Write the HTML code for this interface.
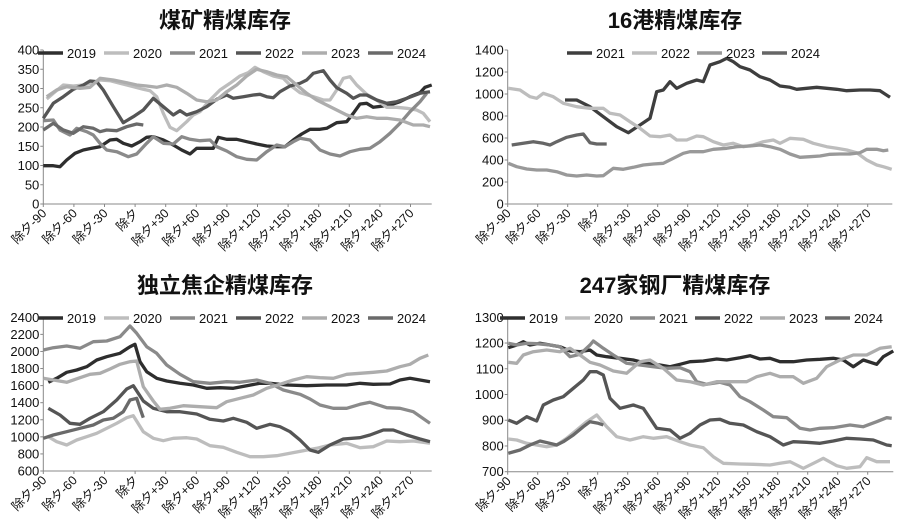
<!DOCTYPE html><html><head><meta charset="utf-8"><style>
body{margin:0;background:#fff}svg{display:block}
text{font-family:"Liberation Sans","Noto Sans CJK SC",sans-serif;fill:#111}
</style></head><body>
<svg id="s" width="900" height="531" xmlns="http://www.w3.org/2000/svg"></svg>
<script>
const C={2019:'#2e2e2e',2020:'#bdbdbd',2021:'#8a8a8a',2022:'#555',2023:'#adadad',2024:'#6a6a6a'};
const C2={2021:'#3e3e3e',2022:'#bdbdbd',2023:'#999',2024:'#666'};
const charts=[
{ox:0,oy:0,title:'煤矿精煤库存',tx:225,ax:130,ay0:612,ay1:150,yl:[0,50,100,150,200,250,300,350,400],xe:1295,legX:38,legSp:66,leg:[2019,2020,2021,2022,2023,2024],
s:{2019:[[130,497],[160,497],[180,500],[200,480],[225,460],[250,450],[275,445],[300,440],[330,420],[350,418],[370,430],[395,438],[420,425],[440,412],[460,410],[490,420],[520,435],[545,450],[570,462],[590,445],[620,445],[640,445],[655,412],[680,418],[710,418],[740,425],[770,432],[800,438],[830,440],[855,440],[880,420],[905,402],[930,388],[960,388],[980,385],[1010,368],[1040,365],[1060,340],[1080,312],[1100,310],[1120,322],[1150,318],[1180,312],[1200,305],[1230,290],[1260,278],[1275,262],[1295,255]],
2020:[[140,297],[160,280],[190,255],[220,258],[250,255],[280,248],[300,240],[330,242],[360,250],[400,260],[430,268],[450,272],[470,290],[490,340],[510,382],[530,392],[560,365],[580,345],[600,335],[630,300],[660,270],[690,250],[720,228],[745,218],[765,202],[790,215],[820,228],[850,235],[870,255],[900,278],[940,290],[970,300],[990,300],[1010,270],[1030,235],[1050,230],[1070,255],[1100,283],[1130,300],[1160,322],[1190,322],[1220,325],[1250,330],[1270,340],[1290,365]],
2021:[[130,362],[160,360],[180,390],[210,405],[230,385],[260,395],[280,405],[300,430],[320,450],[350,455],[385,470],[410,462],[440,430],[460,410],[490,430],[520,432],[545,410],[570,418],[600,422],[630,420],[650,440],[680,453],[710,470],[740,478],[770,480],[800,455],[830,435],[855,440],[880,425],[900,415],[930,420],[960,450],[990,462],[1020,468],[1050,455],[1080,448],[1110,445],[1140,425],[1170,400],[1200,370],[1230,335],[1260,305],[1280,280]],
2022:[[130,355],[160,310],[190,290],[220,268],[250,255],[270,243],[290,245],[310,270],[340,320],[370,368],[400,350],[430,330],[460,295],[490,320],[520,345],[540,332],[560,345],[590,335],[620,320],[650,298],[680,285],[700,295],[730,290],[760,285],[780,283],[800,290],[820,293],[840,275],[870,258],[900,250],[920,240],[940,220],[970,212],[990,240],[1010,263],[1040,280],[1060,295],[1080,285],[1100,285],[1130,300],[1160,310],[1190,305],[1220,295],[1260,280],[1290,275]],
2023:[[140,290],[170,270],[200,260],[240,265],[270,262],[300,235],[340,240],[380,248],[410,255],[440,258],[470,262],[500,255],[530,262],[560,280],[590,300],[620,305],[650,300],[680,275],[710,255],[740,228],[770,208],[800,215],[830,225],[860,230],[890,255],[920,280],[950,300],[980,315],[1010,330],[1040,345],[1070,355],[1100,350],[1130,355],[1160,355],[1200,360],[1240,375],[1270,375],[1290,380]],
2024:[[130,390],[160,370],[190,390],[220,400],[250,380],[280,385],[300,395],[320,390],[350,392],[380,380],[410,372],[430,375]]}},
{ox:450,oy:0,title:'16港精煤库存',tx:675,ax:173,ay0:612,ay1:150,yl:[0,200,400,600,800,1000,1200,1400],xe:1327,legX:117,legSp:65,leg:[2021,2022,2023,2024],col:C2,
s:{2022:[[175,265],[210,270],[240,290],[260,295],[280,280],[310,290],[340,310],[380,320],[420,325],[460,325],[480,340],[510,345],[540,365],[570,385],[600,408],[630,410],[660,405],[680,420],[710,420],[740,408],[760,410],[790,425],[820,435],[850,430],[880,440],[910,435],[940,425],[970,420],[990,430],[1020,415],[1060,418],[1090,430],[1130,440],[1160,445],[1190,450],[1220,458],[1250,480],[1280,495],[1300,500],[1325,508]],
2023:[[175,490],[200,500],[230,507],[260,510],[290,510],[320,515],[350,525],[380,528],[410,525],[440,528],[460,527],[490,505],[520,508],[550,502],[580,495],[610,492],[640,490],[670,475],[700,460],[720,455],[760,455],[790,448],[830,445],[860,440],[900,438],[930,435],[960,440],[990,448],[1020,462],[1050,472],[1080,470],[1110,468],[1140,463],[1170,462],[1200,462],[1230,458],[1250,448],[1280,448],[1300,452],[1315,450]],
2021:[[345,300],[380,300],[420,320],[460,350],[500,380],[535,398],[570,375],[600,355],[620,275],[640,270],[660,245],[680,265],[710,250],[740,240],[760,245],[780,195],[810,185],[830,175],[850,185],[870,200],[900,210],[930,230],[960,240],[990,258],[1020,262],[1040,268],[1070,265],[1100,262],[1130,265],[1160,268],[1190,272],[1230,270],[1260,270],[1290,272],[1320,292]],
2024:[[185,435],[220,430],[250,425],[280,430],[300,435],[320,425],[350,412],[380,405],[400,402],[420,428],[440,432],[470,432]]}},
{ox:0,oy:265,title:'独立焦企精煤库存',tx:225,ax:130,ay0:618,ay1:157,yl:[600,800,1000,1200,1400,1600,1800,2000,2200,2400],xe:1295,legX:38,legSp:66,leg:[2019,2020,2021,2022,2023,2024],
s:{2019:[[145,352],[170,340],[200,322],[230,315],[260,305],[290,285],[320,275],[360,265],[390,245],[405,238],[420,290],[440,320],[470,340],[500,348],[540,355],[580,360],[620,370],[660,368],[700,370],[740,362],[780,355],[810,355],[860,360],[920,362],[980,360],[1040,360],[1080,355],[1120,358],[1170,357],[1200,345],[1230,340],[1260,345],[1290,350]],
2020:[[145,515],[170,530],[200,540],[230,525],[260,515],[290,505],[320,490],[350,475],[380,458],[400,452],[430,500],[460,520],[490,527],[520,520],[560,518],[590,522],[630,542],[670,547],[710,562],[750,575],[790,575],[830,572],[870,565],[910,557],[950,550],[990,540],[1040,535],[1080,548],[1120,545],[1160,528],[1200,530],[1240,528],[1290,535]],
2021:[[130,255],[160,248],[200,243],[240,250],[280,230],[320,228],[360,215],[390,183],[410,205],[440,245],[470,265],[500,300],[540,328],[580,350],[630,355],[680,350],[720,352],[770,345],[810,355],[850,375],[900,388],[930,402],[960,420],[1000,430],[1040,430],[1080,418],[1110,412],[1160,428],[1200,430],[1240,440],[1290,475]],
2022:[[145,430],[180,450],[210,475],[240,478],[270,460],[310,440],[350,405],[380,372],[400,362],[430,408],[460,430],[500,440],[540,440],[590,447],[630,463],[670,468],[700,460],[740,472],[770,490],[810,478],[840,485],[870,500],[900,525],[930,555],[955,562],[990,540],[1030,522],[1080,518],[1110,510],[1150,495],[1180,495],[1220,510],[1260,522],[1290,530]],
2023:[[130,340],[160,345],[200,352],[240,338],[270,328],[300,325],[330,312],[360,298],[390,290],[410,288],[430,365],[460,408],[480,433],[510,430],[550,422],[600,425],[650,428],[680,410],[720,400],[760,390],[800,370],[840,358],[880,345],[920,335],[960,338],[1000,340],[1040,328],[1080,325],[1120,322],[1160,318],[1200,305],[1230,298],[1260,280],[1285,270]],
2024:[[130,520],[160,510],[200,500],[240,490],[280,480],[310,465],[340,460],[370,440],[390,405],[410,400],[420,430],[430,458]]}},
{ox:450,oy:265,title:'247家钢厂精煤库存',tx:675,ax:173,ay0:620,ay1:157,yl:[700,800,900,1000,1100,1200,1300],xe:1330,legX:50,legSp:65,leg:[2019,2020,2021,2022,2023,2024],
s:{2019:[[175,248],[200,240],[220,230],[240,240],[270,235],[300,240],[330,245],[360,258],[390,260],[420,255],[440,270],[470,275],[510,280],[550,285],[590,295],[630,300],[660,305],[690,298],[720,290],[760,288],[800,282],[830,285],[870,278],[900,272],[930,282],[960,280],[990,290],[1030,290],[1070,285],[1110,283],[1150,280],[1180,285],[1210,305],[1240,285],[1280,298],[1300,275],[1330,258]],
2020:[[175,522],[200,525],[230,535],[260,540],[290,545],[320,540],[350,520],[380,495],[410,470],[440,450],[470,485],[500,515],[540,525],[580,515],[610,520],[650,515],[690,530],[720,540],[760,548],[790,575],[820,595],[870,597],[910,598],[960,600],[990,595],[1020,590],[1060,610],[1100,590],[1120,580],[1160,602],[1190,610],[1230,605],[1250,578],[1280,590],[1320,590]],
2021:[[175,235],[200,240],[230,235],[260,236],[300,240],[330,245],[360,275],[390,268],[420,240],[430,228],[460,250],[490,270],[530,295],[570,300],[610,305],[650,310],[690,308],[720,320],[740,350],[770,358],[810,352],[840,360],[870,395],[900,410],[940,435],[970,455],[1010,458],[1050,490],[1080,495],[1110,490],[1150,488],[1200,480],[1240,485],[1280,470],[1310,458],[1325,460]],
2022:[[175,465],[200,475],[230,455],[260,468],[280,420],[310,405],[340,395],[370,370],[400,345],[420,320],[440,320],[460,330],[480,400],[510,430],[550,420],[580,430],[620,490],[660,495],[690,520],[720,505],[750,480],[780,465],[810,463],[840,475],[880,480],[920,500],[960,515],[1000,540],[1030,530],[1070,532],[1110,535],[1150,528],[1190,520],[1230,522],[1270,525],[1310,540],[1325,542]],
2023:[[175,292],[200,295],[220,270],[250,260],[290,255],[330,260],[360,250],[390,270],[420,292],[450,300],[490,318],[530,325],[570,290],[600,285],[640,310],[680,345],[720,350],[760,360],[800,350],[850,350],[890,350],[920,335],[960,325],[990,335],[1030,335],[1060,355],[1100,340],[1130,305],[1170,285],[1210,270],[1250,270],[1290,250],[1325,245]],
2024:[[175,565],[210,555],[240,540],[270,528],[300,535],[320,540],[340,530],[370,510],[400,485],[420,470],[445,475],[460,480]]}}
];
const xl=['除夕-90','除夕-60','除夕-30','除夕','除夕+30','除夕+60','除夕+90','除夕+120','除夕+150','除夕+180','除夕+210','除夕+240','除夕+270'];
let h='';
for(const c of charts){
 const col=c.col||C;
 const P=(zx,zy)=>[(c.ox+zx/3).toFixed(1),(c.oy+zy/3).toFixed(1)];
 const [axx,y0]=P(c.ax,c.ay0),[,y1]=P(c.ax,c.ay1),[xe]=P(c.xe,0);
 h+=`<text x="${c.tx}" y="${c.oy+28}" font-size="22" text-anchor="middle" font-weight="bold">${c.title}</text>`;
 h+=`<line x1="${axx}" y1="${y1}" x2="${axx}" y2="${y0}" stroke="#888" stroke-width="1"/><line x1="${axx}" y1="${y0}" x2="${xe}" y2="${y0}" stroke="#888" stroke-width="1"/>`;
 const n=c.yl.length;
 c.yl.forEach((v,i)=>{const y=+y0+(y1-y0)*i/(n-1);h+=`<line x1="${axx-3}" x2="${axx}" y1="${y}" y2="${y}" stroke="#888"/><text x="${axx-4}" y="${y+4.5}" font-size="13" text-anchor="end">${v}</text>`;});
 const sp=(c.ox?30:30.6);
 xl.forEach((t,i)=>{const x=+axx+sp*i;h+=`<line x1="${x}" x2="${x}" y1="${y0}" y2="${+y0+3}" stroke="#888"/><text transform="translate(${x+4},${+y0+10}) rotate(-45)" font-size="12.5" text-anchor="end">${t}</text>`;});
 for(const k in c.s){h+=`<polyline fill="none" stroke="${col[k]}" stroke-width="3.3" stroke-linejoin="round" points="${c.s[k].map(p=>P(p[0],p[1]).join(',')).join(' ')}"/>`;}
 c.leg.forEach((k,i)=>{const x=c.ox+c.legX+c.legSp*i,y=c.oy+53;h+=`<line x1="${x}" x2="${x+25}" y1="${y}" y2="${y}" stroke="${col[k]}" stroke-width="3.5"/><text x="${x+29}" y="${y+5}" font-size="13">${k}</text>`;});
}
document.getElementById('s').innerHTML=h;
</script></body></html>
